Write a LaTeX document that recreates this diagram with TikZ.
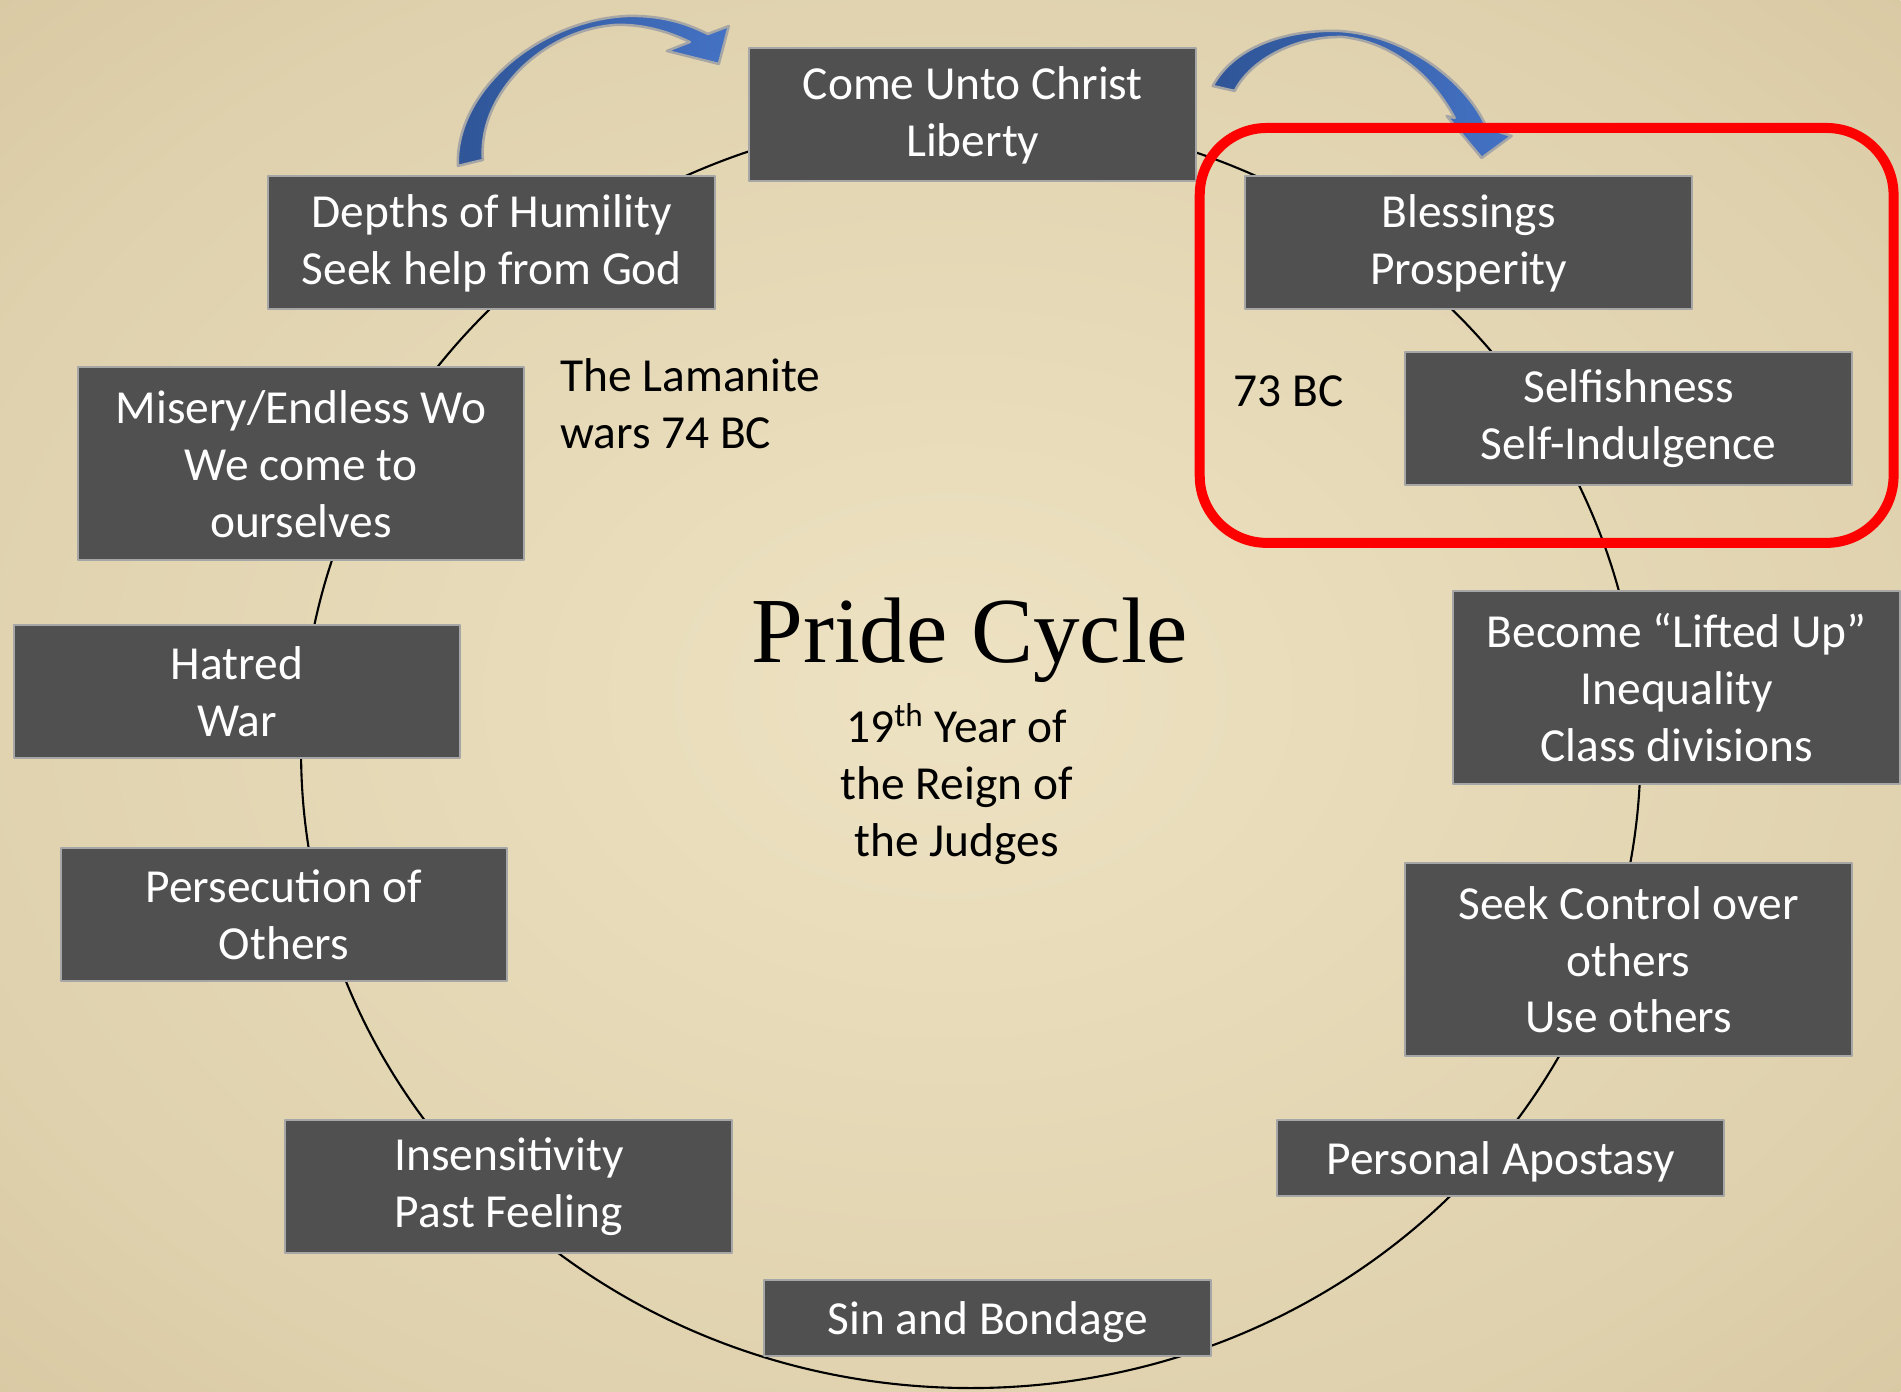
\documentclass[tikz,border=0pt]{standalone}
\usepackage{fontspec}
\setmainfont{Carlito}
\newfontfamily\titlefont{Liberation Serif}
\definecolor{boxgray}{RGB}{80,80,80}
\definecolor{boxedge}{RGB}{166,166,166}
\definecolor{paperlight}{RGB}{237,226,194}
\definecolor{paperdark}{RGB}{206,188,147}
\definecolor{arrowblue}{RGB}{68,114,196}
\definecolor{arrowdark}{RGB}{47,85,151}
\pgfdeclareradialshading{parchment}{\pgfpoint{0bp}{0bp}}{color(0bp)=(paperlight); color(28bp)=(paperlight!55!paperdark); color(50bp)=(paperdark)}
\begin{document}
\begin{tikzpicture}[x=0.02cm,y=-0.02cm,line join=round,line cap=round,
  font=\fontsize{27}{32.4}\selectfont]
  \tikzset{stage/.style={draw=boxedge,line width=0.04cm,fill=boxgray,text=white,align=center,
      minimum width=8.94cm,minimum height=2.66cm,inner sep=0pt,
      execute at begin node={\rule{0pt}{24pt}}},
    tall/.style={minimum height=3.86cm,execute at begin node={}},
    flat/.style={minimum height=1.52cm},
    curl/.style={draw=boxedge,line width=0.05cm,left color=arrowdark,right color=arrowblue}}
  \shade[shading=parchment] (0,0) rectangle (1901,1392);
  \coordinate (hub) at (971,752);
  \draw[line width=1.2pt] (hub) ellipse [x radius=13.4cm,y radius=12.73cm];
  \node[stage] (christ) at (973,115) {Come Unto Christ\\Liberty};
  \node[stage] (blessings) at (1469,243) {Blessings\\Prosperity};
  \node[stage] (selfish) at (1629,419) {Selfishness\\Self-Indulgence};
  \node[stage,tall] (lifted) at (1677,688) {Become “Lifted Up”\\Inequality\\Class divisions};
  \node[stage,tall] (control) at (1629,960) {Seek Control over\\others\\Use others};
  \node[stage,flat] (apostasy) at (1501,1158) {Personal Apostasy};
  \node[stage,flat] (sin) at (988,1318) {Sin and Bondage};
  \node[stage] (feeling) at (509,1187) {Insensitivity\\Past Feeling};
  \node[stage] (persecute) at (284,915) {Persecution of\\Others};
  \node[stage] (hatred) at (237,692) {Hatred\\War};
  \node[stage,tall] (misery) at (301,464) {Misery/Endless Wo\\We come to\\ourselves};
  \node[stage] (humility) at (492,243) {Depths of Humility\\Seek help from God};
  \node[anchor=base,font=\titlefont\fontsize{53}{60}\selectfont] (title) at (970,663) {Pride Cycle};
  \node[align=center] (reign) at (957,784) {19\textsuperscript{th} Year of\\the Reign of\\the Judges};
  \node[anchor=west,align=left,inner sep=0pt] (wars) at (560,404) {The Lamanite\\wars 74 BC};
  \node[inner sep=0pt] (year73) at (1289,391) {73 BC};
  \path[curl] (458,166) .. controls (455,90) and (540,20) .. (627,16) .. controls (665,15) and (690,25) .. (708,34)
    -- (729,26) -- (719,64) -- (667,51) -- (690,42) .. controls (665,30) and (640,24) .. (615,25)
    .. controls (545,30) and (478,92) .. (483,160) -- cycle;
  \path[curl] (1213,86) .. controls (1235,45) and (1290,29) .. (1340,31) .. controls (1415,36) and (1472,90) .. (1487,128)
    -- (1512,136) -- (1482,158) -- (1447,116) -- (1455,118) .. controls (1432,75) and (1392,42) .. (1343,37)
    .. controls (1298,36) and (1252,58) .. (1235,91) -- cycle;
  \draw[red,line width=0.2cm,rounded corners=1.34cm] (1200,128) rectangle (1894,543);
\end{tikzpicture}
\end{document}
